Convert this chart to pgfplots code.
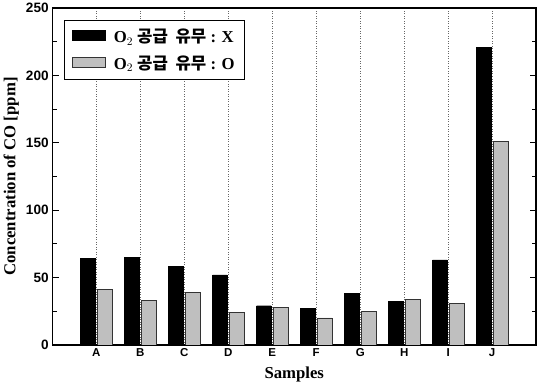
\documentclass[border=0pt]{standalone}
\usepackage{fontspec}
\setmainfont{Liberation Serif}
\newfontfamily\ticksf{Liberation Sans}
\newfontfamily\kr{Noto Sans CJK KR}
\usepackage{pgfplots}
\pgfplotsset{compat=1.18}
\begin{document}
\begin{tikzpicture}
\begin{axis}[
  scale only axis,
  width=463pt, height=322pt,
  ybar=2pt, bar width=14pt,
  xmin=0, xmax=11, ymin=0, ymax=250,
  xtick={1,2,3,4,5,6,7,8,9,10},
  xticklabels={A,B,C,D,E,F,G,H,I,J},
  x tick style={draw=none},
  xmajorgrids, grid style={dotted, black!60, line width=0.6pt},
  ytick={0,50,100,150,200,250},
  minor ytick={25,75,125,175,225},
  ytick pos=both,
  tick align=inside,
  major tick length=6pt, minor tick length=4pt,
  every tick/.style={black, line width=1pt},
  /pgf/number format/assume math mode=true,
  yticklabel style={font=\ticksf\bfseries\fontsize{13}{13}\selectfont},
  xticklabel style={font=\ticksf\bfseries\fontsize{11}{11}\selectfont},
  xlabel={\bfseries Samples},
  ylabel={\bfseries Concentration of CO [ppm]},
  label style={font=\fontsize{16}{16}\selectfont},
  xlabel style={yshift=-3pt},
  ylabel style={yshift=0pt},
  axis line style={line width=1.6pt},
  legend style={at={(0.025,0.965)}, anchor=north west, draw=black, line width=0.6pt,
    font=\bfseries\fontsize{16}{16}\selectfont, inner xsep=7pt, inner ysep=6pt, row sep=7pt,
    /tikz/every odd column/.append style={column sep=6pt}},
  legend image code/.code={\fill[#1] (0cm,-0.13cm) rectangle (1.1cm,0.19cm); \draw[#1, fill opacity=0] (0cm,-0.13cm) rectangle (1.1cm,0.19cm);},
  legend cell align=left,
]
\addplot[fill=black, draw=black] coordinates {(1,64) (2,65) (3,58) (4,52) (5,29) (6,27) (7,38) (8,32) (9,63) (10,221)};
\addplot[fill=gray!50, draw=black!80] coordinates {(1,41) (2,33) (3,39) (4,24) (5,28) (6,20) (7,25) (8,34) (9,31) (10,151)};
\legend{O$_2$\ {\kr 공급\ \ 유무} : X, O$_2$\ {\kr 공급\ \ 유무} : O}
\end{axis}
\end{tikzpicture}
\end{document}
